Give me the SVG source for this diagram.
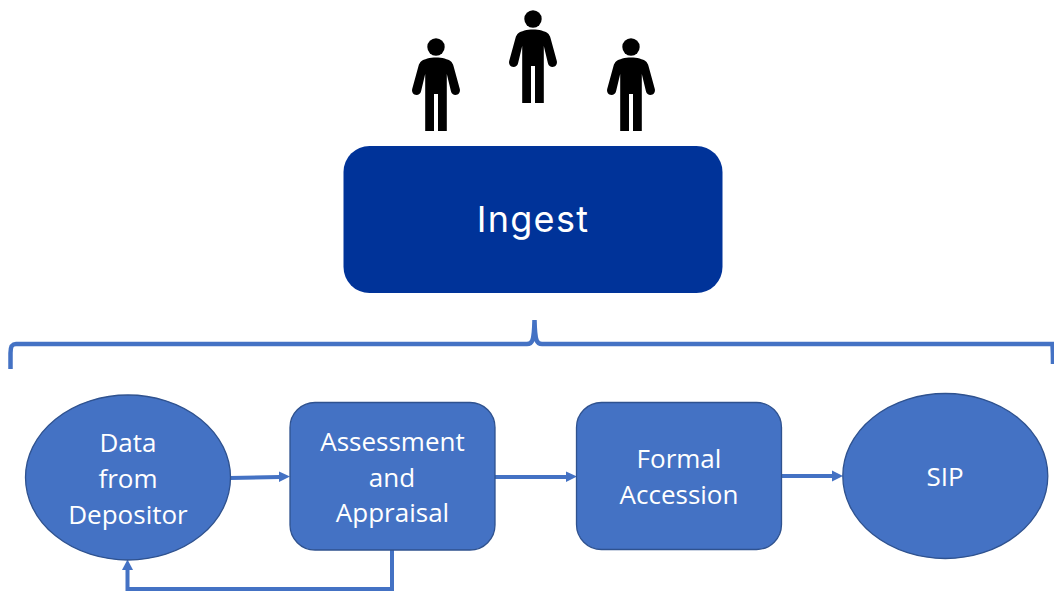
<svg xmlns="http://www.w3.org/2000/svg" width="1054" height="591" viewBox="0 0 1054 591">
<style>
.n{fill:#4472c4;stroke:#2f528f;stroke-width:1.3}
.c{fill:none;stroke:#4472c4;stroke-width:4}
.b{stroke-width:4.500}
.h{fill:#4472c4}
.t{font-family:"Open Sans","Noto Sans",sans-serif;font-size:26px;fill:#fff;text-anchor:middle}
</style>
<defs>
<g id="person">
<circle cx="0" cy="0" r="8.700"/>
<path d="M0,10.500C6,10.500 12,12 15,14.500C16,15.500 17,17 17.500,19L23.800,42C24.600,45 22.500,48 19.500,48C17.300,48 15.600,46.500 15,44.500L10.800,27V84H2V47H-2V84H-10.800V27L-15,44.500C-15.600,46.500 -17.300,48 -19.500,48C-22.500,48 -24.600,45 -23.800,42L-17.500,19C-17,17 -16,15.500 -15,14.500C-12,12 -6,10.500 0,10.500Z"/>
</g>
</defs>
<g id="person-left"><use href="#person" x="436" y="47"/></g>
<g id="person-center"><use href="#person" x="533" y="19"/></g>
<g id="person-right"><use href="#person" x="631" y="47"/></g>
<g id="ingest">
<rect x="343.500" y="146" width="379" height="147" rx="26" fill="#003399"/>
<text x="533" y="232" font-family="Inter,Lato,sans-serif" font-size="36" letter-spacing="1.300" fill="#fff" text-anchor="middle">Ingest</text>
</g>
<g id="connectors">
<path class="c b" d="M10.500,369V353C10.500,346 12,344 16,344H527C532,344 534,342 534.500,320C535,342 537,344 542,344H1052.500C1052.800,350 1053,356 1053,364"/>
<path class="c" d="M230,478L280,477"/><path class="h" d="M279,471.500L290,476.500L279,482Z"/>
<path class="c" d="M495,477H567"/><path class="h" d="M566,471.500L577,476.500L566,482Z"/>
<path class="c" d="M781,476H833"/><path class="h" d="M832,470.500L843,476L832,481.500Z"/>
<path class="c" d="M392,550V589H127.500V569"/><path class="h" d="M122,570L127.500,559.500L133,570Z"/>
</g>
<g id="data-from-depositor">
<ellipse class="n" cx="128" cy="477.500" rx="102.500" ry="82.500"/>
<text class="t" x="128" y="452">Data</text><text class="t" x="128" y="488">from</text><text class="t" x="128" y="524">Depositor</text>
</g>
<g id="assessment">
<rect class="n" x="290" y="402.500" width="205" height="147.500" rx="25"/>
<text class="t" x="392.500" y="451">Assessment</text><text class="t" x="392" y="487">and</text><text class="t" x="392.500" y="522">Appraisal</text>
</g>
<g id="accession">
<rect class="n" x="576.500" y="402.500" width="205" height="147" rx="25"/>
<text class="t" x="679" y="468">Formal</text><text class="t" x="679" y="504">Accession</text>
</g>
<g id="sip">
<ellipse class="n" cx="945.300" cy="476" rx="102.500" ry="82.500"/>
<text class="t" x="945" y="486">SIP</text>
</g>
</svg>
